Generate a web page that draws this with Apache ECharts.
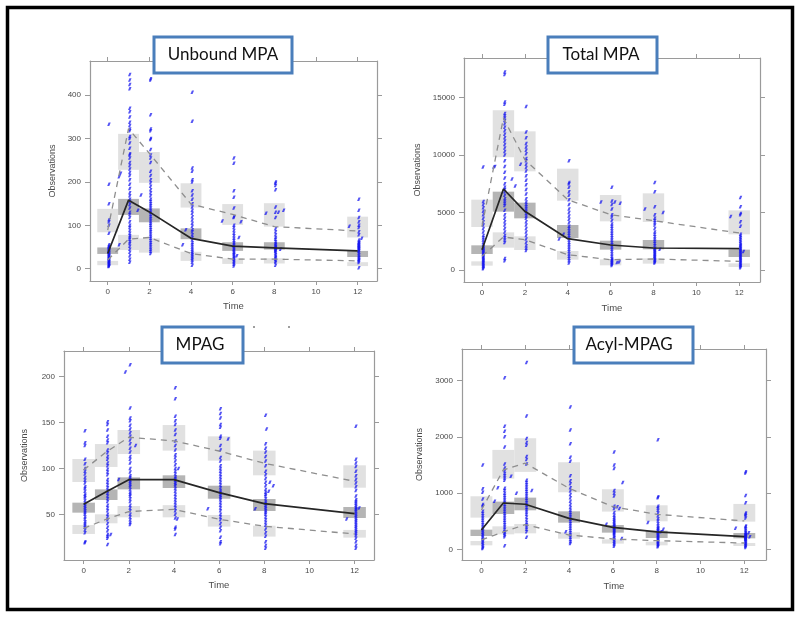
<!DOCTYPE html>
<html><head><meta charset="utf-8">
<style>html,body{margin:0;padding:0;background:#fff}#c{width:800px;height:617px}</style>
<script src="https://cdn.jsdelivr.net/npm/echarts@6/dist/echarts.min.js"></script>
</head><body><div id="c"></div>
<script>
const times=[0,1,2,4,6,8,12];
const xTicks=[0,2,4,6,8,10,12];
const titles=['Unbound MPA','Total MPA','MPAG','Acyl-MPAG'];

const unboundTicks=[0,100,200,300,400];
const unboundMedian=[35,158,131,70,52,48,41];
const unboundUpper=[89,323,266,149,125,97,87];
const unboundLower=[20,68,72,35,22,22,18];
const unboundUpperBand=[[84,138],[228,311],[198,269],[141,197],[101,149],[97,151],[72,120]];
const unboundMedianBand=[[34,49],[124,161],[107,139],[68,93],[41,61],[44,61],[27,41]];
const unboundLowerBand=[[8,18],[43,78],[37,70],[18,39],[11,24],[12,24],[6,15]];
const unboundObs=[
[333,195,150,113,108,100,82,55,52,50,48,46,44,42,40,38,36,34,32,30,28,26,24,22,20,18,16,14,12,10,8,6,5],
[448,435,425,415,370,362,350,338,330,322,318,305,300,290,278,265,262,255,245,238,230,222,215,205,195,185,175,168,160,155,148,140,130,125,118,108,100,95,88,82,76,72,68,62,58,52,45,38,30,22,15],
[438,435,355,322,318,300,298,275,262,255,245,225,215,205,198,190,182,175,168,160,155,150,145,140,135,130,125,120,115,110,105,100,95,90,85,80,75,70,65,60,55,50,45,40,35],
[407,340,232,225,205,200,180,170,160,150,142,135,128,120,112,105,98,90,85,78,72,66,60,55,50,45,40,36,32,28,24,20,15,8],
[255,243,180,165,140,120,118,100,95,88,82,76,70,65,60,56,52,48,45,42,38,35,32,28,25,22,18,14,10,6],
[200,197,192,182,142,130,118,92,85,78,72,68,62,58,55,52,50,48,46,44,42,40,36,32,28,25,22,18,14,8],
[160,135,118,108,100,95,85,78,66,62,60,58,56,54,52,50,48,46,44,42,40,36,32,28,25,22,20,18,14,2]];
const unboundSide=[[0.55,212],[0.62,220],[0.55,55],[1.6,170],[1.45,135],[3.6,55],[3.75,90],[5.5,110],[6.4,108],[6.3,72],[6.2,30],[7.6,128],[8.45,135],[8.2,130],[8.3,45],[11.6,98],[12.2,70]];

const totalTicks=[0,5000,10000,15000];
const totalMedian=[1767,7039,5098,2723,2173,1912,1854];
const totalUpper=[3800,13210,9590,6112,4809,4287,3215];
const totalLower=[1190,2868,2636,1333,898,956,753];
const totalUpperBand=[[3737,6112],[9791,13876],[8575,12051],[6025,8806],[4229,6518],[4171,6663],[3100,5185]];
const totalMedianBand=[[1390,2144],[5070,6808],[4490,5852],[2781,3911],[1767,2549],[1796,2607],[1130,1767]];
const totalLowerBand=[[377,753],[1941,3273],[1738,2926],[898,1651],[406,927],[550,1014],[261,579]];
const totalObs=[
[5950,5700,5400,5100,4800,4500,4200,3900,3600,3300,3000,2800,2600,2400,2200,2000,1900,1800,1700,1600,1500,1400,1300,1200,1100,1000,900,800,700,600,500,400,300,200,100],
[17200,17000,14600,14400,13600,13400,13200,13000,12700,12400,12100,11800,11500,11200,10900,10600,10300,10000,9500,9000,8500,8000,7500,7200,7000,6800,6500,6200,6000,5800,5600,5200,4800,4500,4200,3900,3600,3300,3000,2800,2600,2400,1000,800],
[14200,12000,11500,11000,10700,10400,10100,9700,9500,9200,8900,8600,8200,7800,7400,7000,6600,6200,5900,5700,5500,5300,5100,4900,4700,4500,4200,3900,3600,3300,3000,2700,2400,2100,1900,1700],
[9500,7600,7500,7200,6800,6500,6100,5700,5300,5000,4700,4400,4100,3800,3600,3400,3200,3000,2800,2600,2400,2200,2000,1800,1600,1400,1200,1000,800,600],
[7200,6000,5700,5300,4800,4600,4300,4000,3800,3600,3400,3200,3000,2800,2600,2400,2200,2000,1800,1600,1400,1200,1000,900,800,700,600,500,400],
[7600,6800,5500,4800,4500,4300,4100,3900,3600,3300,3100,2900,2700,2500,2300,2100,1900,1800,1700,1600,1500,1400,1300,1200,1100,1000,900,800,700,600],
[6300,5500,4900,4800,4200,3800,3100,2950,2800,2650,2500,2350,2200,2100,2000,1900,1800,1700,1600,1500,1400,1300,1200,1100,1000,900,800,700,600,500,400,300,200]];
const totalSide=[[0.05,8950],[0.6,9000],[0.55,8950],[1.4,7900],[1.55,7300],[1.8,9200],[3.6,2700],[3.8,3100],[5.55,5900],[6.45,5800],[6.2,5900],[6.4,700],[6.3,650],[7.6,5300],[8.45,5000],[8.3,1800],[11.6,4650],[12.2,1600]];

const mpagTicks=[50,100,150,200];
const mpagMedian=[61,74.7,87.8,87.8,73.6,61.6,50.7];
const mpagUpper=[98.3,118,134,130,119,105.6,86];
const mpagLower=[34.7,44.6,53,55.4,44.6,37,28.6];
const mpagUpperBand=[[85.2,110.3],[101.6,126.6],[115.7,141.9],[119.4,147.3],[108.5,135],[92.5,119.4],[79,103.4]];
const mpagMedianBand=[[51.8,62.7],[65.6,77.2],[77.2,90.3],[78.7,92.5],[67,81.2],[53.6,66.7],[46,58]];
const mpagLowerBand=[[28.6,38.4],[40.2,50],[46.7,59],[46.7,60],[36.6,49.3],[25.7,37.6],[24.6,33]];
const mpagObs=[
[141,128,125,110,105,100,97,94,90,87,84,80,78,75,72,70,68,65,62,60,58,56,54,52,50,47,45,42,40,38,36,33,30,20,19],
[151,148,142,135,131,128,120,117,113,110,106,103,99,96,93,88,85,82,79,76,73,70,67,64,60,57,54,50,47,44,40,36,32,28,26,24,17],
[213,166,155,152,147,143,139,135,131,127,122,118,113,110,106,100,96,92,90,88,86,84,82,80,77,74,72,70,67,64,60,57,54,50,47,44,41,39],
[188,176,157,152,148,142,137,130,125,120,115,112,108,104,100,97,94,91,89,87,85,83,81,78,75,72,69,66,63,60,57,54,50,46,36,34,28],
[165,160,155,148,145,135,133,125,120,112,108,103,100,97,94,91,88,85,82,79,76,74,72,70,68,66,63,60,57,54,50,47,44,40,36,32,25,20,18],
[158,127,122,118,113,108,103,97,93,89,85,81,77,74,72,70,67,64,62,60,58,56,54,52,50,47,44,41,38,34,30,26,20,16,13],
[146,110,106,102,97,92,88,84,80,76,70,66,64,62,60,58,56,55,53,51,49,47,45,43,41,39,37,35,33,31,29,27,24,20,16,13]];
const mpagSide=[[1.85,205],[1.55,88],[2.3,125],[1.2,28],[4.2,100],[4.15,45],[5.5,56],[6.4,132],[8.1,143],[7.6,56],[8.4,81],[8.2,75],[8.25,85],[11.65,45],[12.2,57]];

const acylTicks=[0,1000,2000,3000];
const acylMedian=[349,828,805,556,396,314,231];
const acylUpper=[704,1414,1533,1089,763,627,509];
const acylLower=[172,314,444,260,189,160,118];
const acylUpperBand=[[568,947],[1260,1769],[1379,1976],[1018,1550],[675,1071],[503,787],[497,811]];
const acylMedianBand=[[243,355],[633,852],[698,923],[479,680],[302,438],[207,337],[201,296]];
const acylLowerBand=[[77,154],[272,414],[290,456],[195,308],[107,183],[77,142],[65,118]];
const acylObs=[
[1500,1080,1020,900,800,780,680,640,600,560,520,480,440,400,370,340,310,280,250,220,190,160,130,100,70,40,20],
[3050,2190,2100,2000,1820,1520,1450,1400,1350,1310,1270,1230,1090,1050,1000,960,920,880,840,800,760,720,680,640,600,560,520,480,440,400,360,320,290,260,230,70],
[3320,2370,1970,1900,1850,1650,1600,1520,1230,1190,1150,1110,1070,1030,990,950,910,870,830,790,750,710,670,630,580,530,480,440,400,360,320,220],
[2530,2120,1880,1640,1570,1310,1220,1170,1100,1040,980,920,860,800,750,700,660,620,580,540,500,460,420,380,340,300,260,220,180,140,110],
[1730,1500,1440,1050,1000,950,770,730,660,610,570,540,510,480,450,430,410,390,370,350,330,310,290,270,240,210,180,150,120,90,60],
[1950,940,920,770,740,700,650,600,550,510,460,420,390,370,350,330,310,290,270,250,230,210,190,170,150,130,110,90,70,50],
[1380,1360,960,830,650,630,600,560,420,400,370,340,310,290,270,260,250,240,230,220,210,200,190,180,160,140,120,100,80,60,40]];
const acylSide=[[0.6,860],[0.75,1100],[1.35,1300],[1.6,1000],[2.3,1050],[3.85,320],[6.45,1190],[6.3,730],[6.2,760],[5.7,450],[6.4,200],[7.6,480],[8.3,360],[8.2,320],[11.6,380],[12.2,300],[12.25,230]];

const panels=[
 {left:90,top:61,w:287,h:220,xr:[-0.85,12.93],yr:[-28.4,479],ticks:unboundTicks,med:unboundMedian,up:unboundUpper,lo:unboundLower,ub:unboundUpperBand,mb:unboundMedianBand,lb:unboundLowerBand,obs:unboundObs,side:unboundSide,ygap:33,xgap:20},
 {left:464,top:58,w:296,h:224,xr:[-0.84,12.97],yr:[-1043,18424],ticks:totalTicks,med:totalMedian,up:totalUpper,lo:totalLower,ub:totalUpperBand,mb:totalMedianBand,lb:totalLowerBand,obs:totalObs,side:totalSide,ygap:42,xgap:21},
 {left:64,top:351,w:310,h:209,xr:[-0.87,12.86],yr:[0.2,228],ticks:mpagTicks,med:mpagMedian,up:mpagUpper,lo:mpagLower,ub:mpagUpperBand,mb:mpagMedianBand,lb:mpagLowerBand,obs:mpagObs,side:mpagSide,ygap:35,xgap:20},
 {left:462,top:349,w:304,h:211,xr:[-0.886,12.99],yr:[-183,3558],ticks:acylTicks,med:acylMedian,up:acylUpper,lo:acylLower,ub:acylUpperBand,mb:acylMedianBand,lb:acylLowerBand,obs:acylObs,side:acylSide,ygap:38,xgap:21}
];
const boxes=[[154,37,138,36,223],[548,37,109,36,601],[162,327,81,36,200],[574,327,119,36,629]];

const axisCol='#9a9a9a',labCol='#4a4a4a',font='"Liberation Sans",Arial,sans-serif';
const mark='path://M0,10 L4,0 L10,0 L6,10 Z';
const grid=[],xAxis=[],yAxis=[],series=[];
function band(rows,color,i){
 return {type:'custom',xAxisIndex:i*2,yAxisIndex:i*2,silent:true,z:1,encode:{x:0,y:[1,2]},
  data:rows.map((r,k)=>[times[k],r[0],r[1]]),
  renderItem:(p,api)=>{const a=api.coord([api.value(0)-0.5,api.value(2)]),b=api.coord([api.value(0)+0.5,api.value(1)]);
   return {type:'rect',shape:{x:a[0],y:a[1],width:b[0]-a[0],height:b[1]-a[1]},style:{fill:color}};}};
}
panels.forEach((p,i)=>{
 grid.push({left:p.left,top:p.top,width:p.w,height:p.h,containLabel:false});
 const line={show:true,onZero:false,lineStyle:{color:axisCol,width:1.2}};
 const xb={type:'value',gridIndex:i,min:p.xr[0],max:p.xr[1],splitLine:{show:false}};
 const yb={type:'value',gridIndex:i,min:p.yr[0],max:p.yr[1],splitLine:{show:false}};
 const xTick={show:true,length:4,customValues:xTicks,lineStyle:{color:axisCol}};
 const yTick={show:true,length:5,customValues:p.ticks,lineStyle:{color:axisCol}};
 xAxis.push({...xb,position:'bottom',axisLine:line,axisTick:xTick,name:'Time',nameLocation:'middle',nameGap:p.xgap,
  nameTextStyle:{color:labCol,fontSize:9.5,fontFamily:font},
  axisLabel:{show:true,customValues:xTicks,margin:7,color:labCol,fontSize:8,fontFamily:font,formatter:v=>String(v)}});
 xAxis.push({...xb,position:'top',axisLine:line,axisTick:xTick,axisLabel:{show:false}});
 yAxis.push({...yb,position:'left',axisLine:line,axisTick:yTick,name:'Observations',nameLocation:'middle',nameGap:p.ygap,
  nameTextStyle:{color:labCol,fontSize:9,fontFamily:font},
  axisLabel:{show:true,customValues:p.ticks,margin:9,color:labCol,fontSize:8,fontFamily:font,formatter:v=>String(v)}});
 yAxis.push({...yb,position:'right',axisLine:line,axisTick:yTick,axisLabel:{show:false}});
 series.push(band(p.ub,'#e1e1e1',i),band(p.lb,'#e1e1e1',i),band(p.mb,'#b5b5b5',i));
 const pts=[];
 p.obs.forEach((col,k)=>col.forEach(v=>pts.push([times[k]+0.06,v])));
 p.side.forEach(s=>pts.push(s));
 series.push({type:'scatter',xAxisIndex:i*2,yAxisIndex:i*2,z:2,silent:true,data:pts,symbol:mark,symbolSize:[3.5,3.5],
  itemStyle:{color:'rgba(20,20,240,0.9)'}});
 const ln=(vals,style)=>({type:'line',xAxisIndex:i*2,yAxisIndex:i*2,z:3,silent:true,symbol:'none',smooth:false,
  data:vals.map((v,k)=>[times[k],v]),lineStyle:style});
 series.push(ln(p.up,{color:'#8e8e8e',width:1.3,type:[6,5]}),ln(p.lo,{color:'#8e8e8e',width:1.3,type:[6,5]}),
  ln(p.med,{color:'#262626',width:1.7}));
});
const graphic=[{type:'rect',z:100,shape:{x:7.5,y:7.5,width:785,height:602},style:{fill:'none',stroke:'#000',lineWidth:3.5}},
 {type:'circle',z:100,shape:{cx:254,cy:327,r:0.8},style:{fill:'#222'}},{type:'circle',z:100,shape:{cx:289,cy:327,r:0.8},style:{fill:'#222'}}];
boxes.forEach((b,i)=>{
 graphic.push({type:'rect',z:101,shape:{x:b[0],y:b[1],width:b[2],height:b[3]},style:{fill:'#fff',stroke:'#4a7ebb',lineWidth:3}});
 graphic.push({type:'text',z:102,style:{x:b[4],y:b[1]+b[3]/2,text:titles[i],fill:'#111',font:'17px Lato,"Noto Sans",sans-serif',textAlign:'center',textVerticalAlign:'middle'}});
});
const chart=echarts.init(document.getElementById('c'),null,{renderer:'canvas'});
chart.setOption({animation:false,backgroundColor:'#fff',grid,xAxis,yAxis,series,graphic});
</script></body></html>
